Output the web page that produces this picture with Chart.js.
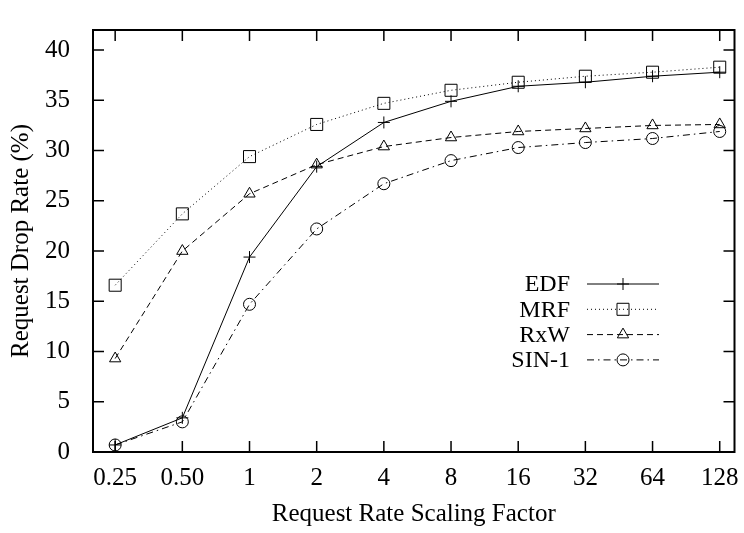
<html>
<head>
    <title>Request Drop Rate</title>
    <script src="https://cdn.jsdelivr.net/npm/chart.js"></script>
    <style>
        body { margin: 0; background: #fff; }
    </style>
</head>
<body>
    <canvas id="drop-rate" width="744" height="533"></canvas>
<script>
    // x categories (scaling factors) and the four series
    const factors = ["0.25", "0.50", "1", "2", "4", "8", "16", "32", "64", "128"];
    const edf  = [0.7, 3.4, 19.4, 28.4, 32.8, 34.9, 36.4, 36.8, 37.4, 37.8];
    const mrf  = [16.6, 23.7, 29.4, 32.6, 34.7, 36.0, 36.8, 37.4, 37.8, 38.3];
    const rxw  = [9.3, 20.0, 25.7, 28.6, 30.4, 31.3, 31.9, 32.2, 32.5, 32.6];
    const sin1 = [0.7, 3.0, 14.7, 22.2, 26.7, 29.0, 30.3, 30.8, 31.2, 31.9];
    const yTicks = [0, 5, 10, 15, 20, 25, 30, 35, 40];

    Chart.defaults.font.family = "'Liberation Serif', 'Times New Roman', serif";
    Chart.defaults.font.size = 24;
    Chart.defaults.color = '#000';

    function points(values) {
        return values.map((v, i) => ({ x: i, y: v }))
    }

    function series(label, values, dash, style, radius) {
        return {
            label: label,
            data: points(values),
            borderColor: '#000',
            borderWidth: 1,
            borderDash: dash,
            pointStyle: style,
            pointRadius: radius,
            pointBorderColor: '#000',
            pointBorderWidth: 1,
            pointBackgroundColor: 'rgba(0,0,0,0)',
            tension: 0
        }
    }

    // gnuplot-like frame with inward ticks on all four sides
    const frame = {
        id: 'frame',
        afterDatasetsDraw(chart) {
            const { ctx, chartArea: a, scales: { x, y } } = chart;
            ctx.save();
            ctx.strokeStyle = '#000';
            ctx.lineWidth = 1.5;
            ctx.beginPath();
            x.ticks.forEach(t => {
                const px = x.getPixelForValue(t.value);
                ctx.moveTo(px, a.bottom); ctx.lineTo(px, a.bottom - 11);
                ctx.moveTo(px, a.top); ctx.lineTo(px, a.top + 11);
            });
            y.ticks.forEach(t => {
                const py = y.getPixelForValue(t.value);
                ctx.moveTo(a.left, py); ctx.lineTo(a.left + 11, py);
                ctx.moveTo(a.right, py); ctx.lineTo(a.right - 11, py);
            });
            ctx.stroke();
            ctx.lineWidth = 2;
            ctx.strokeRect(a.left, a.top, a.right - a.left, a.bottom - a.top);
            ctx.restore();
        }
    }

    // legend drawn like gnuplot's key: text right aligned, sample line with marker
    const key = {
        id: 'key',
        afterDraw(chart) {
            const ctx = chart.ctx;
            ctx.save();
            ctx.font = "24px 'Liberation Serif'";
            ctx.textAlign = 'right';
            ctx.textBaseline = 'middle';
            chart.data.datasets.forEach((ds, i) => {
                const yy = 284 + i * 25.3;
                ctx.fillStyle = '#000';
                ctx.fillText(ds.label, 570, yy + 1);
                ctx.strokeStyle = '#000';
                ctx.lineWidth = 1;
                ctx.setLineDash(ds.borderDash);
                ctx.beginPath();
                ctx.moveTo(587, yy);
                ctx.lineTo(659, yy);
                ctx.stroke();
                ctx.setLineDash([]);
                ctx.fillStyle = 'rgba(0,0,0,0)';
                Chart.helpers.drawPoint(ctx, {
                    pointStyle: ds.pointStyle, radius: ds.pointRadius, rotation: 0, borderWidth: 1
                }, 623, yy);
            });
            ctx.restore();
        }
    }

    new Chart(document.getElementById('drop-rate'), {
        type: 'line',
        data: {
            datasets: [
                series('EDF', edf, [], 'cross', 6),
                series('MRF', mrf, [1, 3], 'rect', 8.5),
                series('RxW', rxw, [6, 4], 'triangle', 6.5),
                series('SIN-1', sin1, [7, 4, 1.5, 4], 'circle', 6)
            ]
        },
        options: {
            responsive: false,
            animation: false,
            layout: { padding: { top: 9, right: 6, left: 0, bottom: 0 } },
            plugins: { legend: { display: false }, tooltip: { enabled: false } },
            scales: {
                x: {
                    type: 'linear',
                    min: -0.33,
                    max: 9.22,
                    afterBuildTicks: s => { s.ticks = factors.map((_, i) => ({ value: i })) },
                    afterFit: s => { s.height = 81 },
                    ticks: {
                        padding: 3,
                        maxRotation: 0,
                        font: { size: 25 },
                        callback: v => factors[v]
                    },
                    grid: { display: false },
                    border: { display: false },
                    title: {
                        display: true,
                        text: 'Request Rate Scaling Factor',
                        font: { size: 25 },
                        padding: { top: 0, bottom: 4 }
                    }
                },
                y: {
                    min: 0,
                    max: 42,
                    afterBuildTicks: s => { s.ticks = yTicks.map(v => ({ value: v })) },
                    afterFit: s => { s.width = 93 },
                    ticks: { padding: 15, font: { size: 25 } },
                    grid: { display: false },
                    border: { display: false },
                    title: {
                        display: true,
                        text: 'Request Drop Rate (%)',
                        font: { size: 25 },
                        padding: { top: 6, bottom: 0 }
                    }
                }
            }
        },
        plugins: [frame, key]
    });
</script>
</body>
</html>
